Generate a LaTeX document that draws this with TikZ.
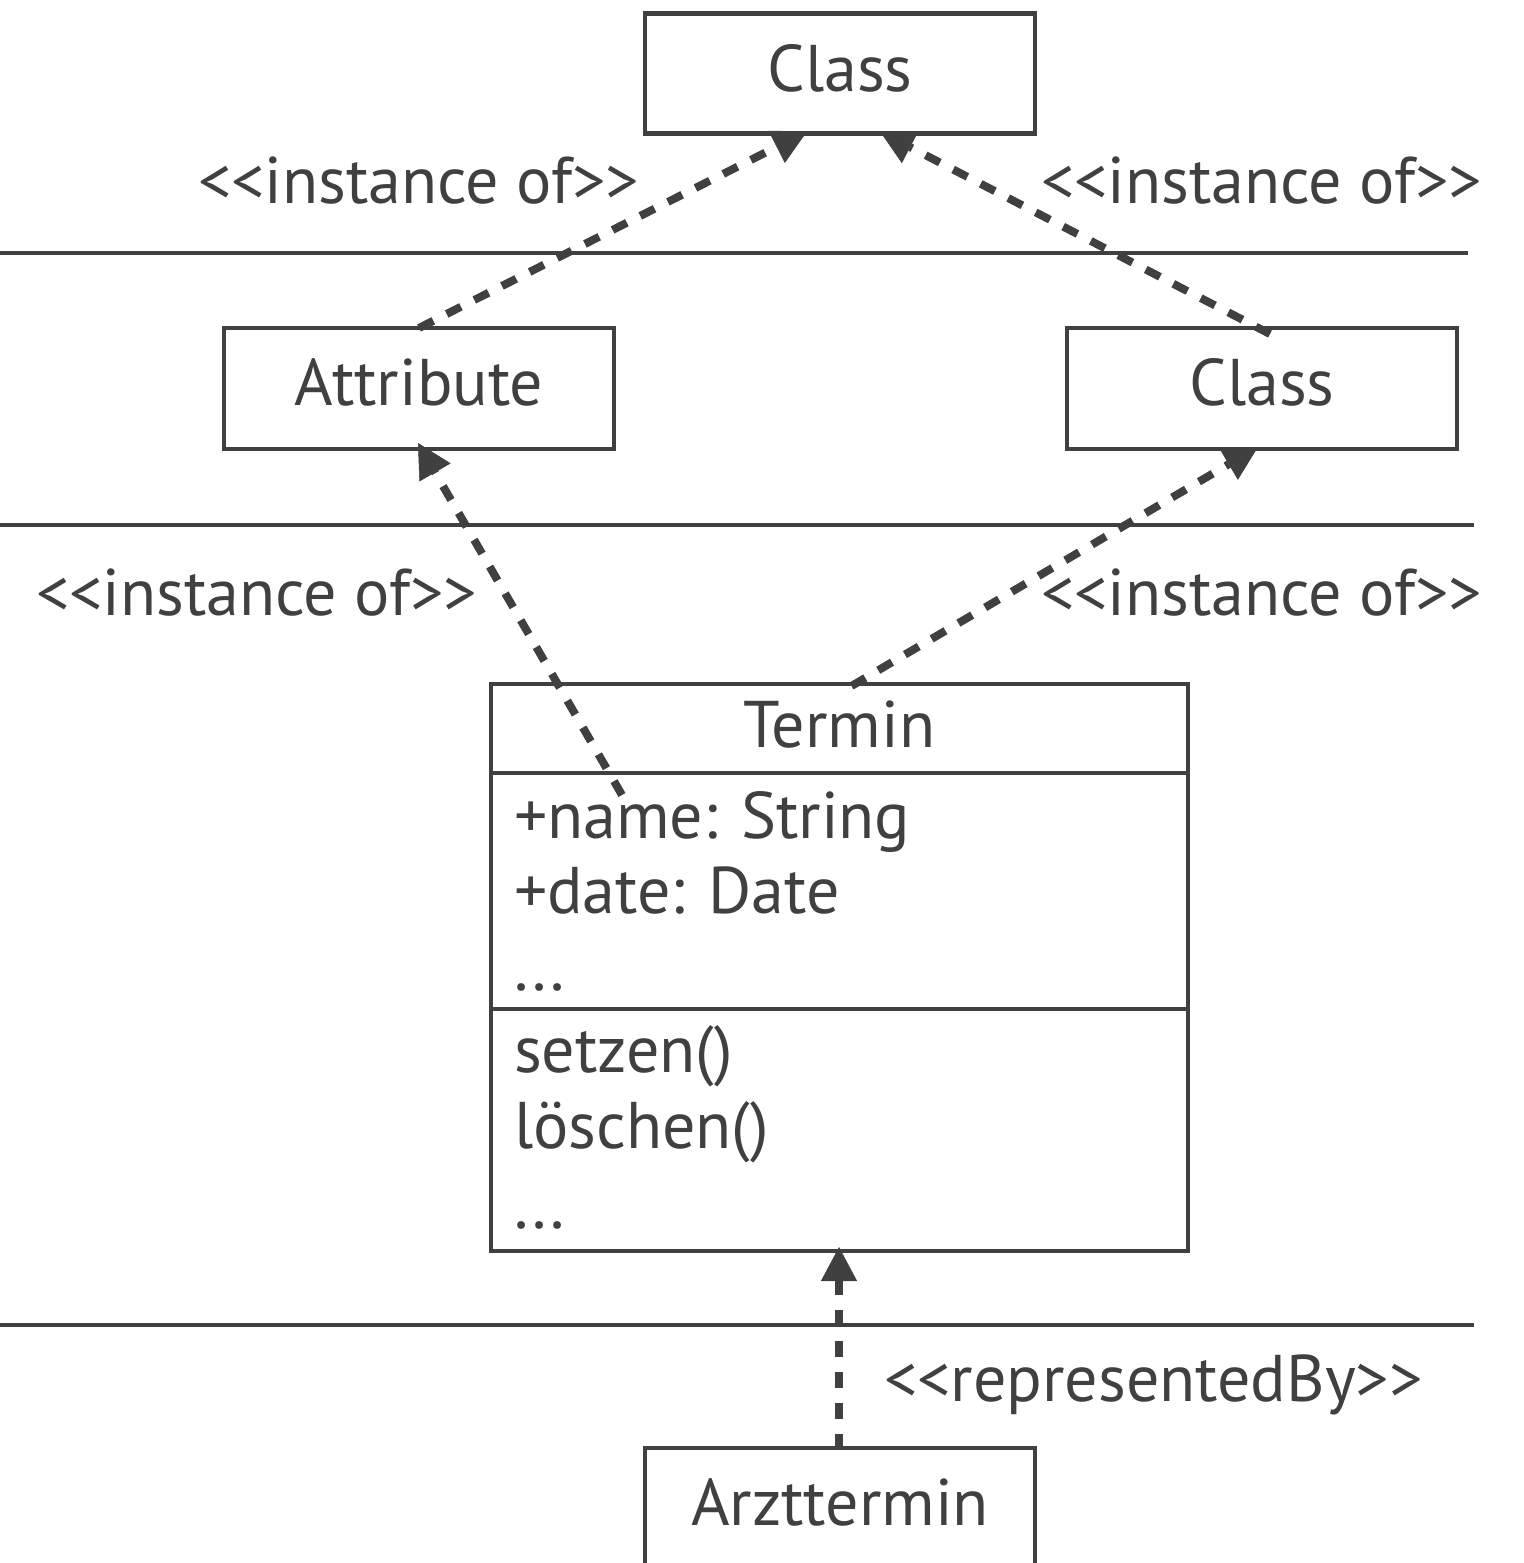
\documentclass[tikz,border=0pt]{standalone}
\usepackage{fontspec}
\setmainfont{PT Sans}
\usetikzlibrary{arrows.meta}
\definecolor{ink}{HTML}{404040}
\begin{document}
\begin{tikzpicture}[x=1pt,y=-1pt,
  every node/.style={inner sep=0pt, outer sep=0pt},
  box/.style={draw=ink, line width=4.5pt, fill=white, minimum width=390pt, minimum height=120pt},
  lbl/.style={text=ink, font=\fontsize{66}{75}\selectfont, anchor=base},
  lblw/.style={lbl, anchor=base west},
  sep/.style={draw=ink, line width=4.5pt},
  inst/.style={draw=ink, line width=8pt, dash pattern=on 16pt off 15pt,
    -{Triangle[length=34pt,width=36pt,line width=0.5pt]}}
]
\useasboundingbox (0,0) rectangle (1523,1563);

% layer separators
\coordinate (s1a) at (0,253);  \coordinate (s1b) at (1468,253);
\coordinate (s2a) at (0,525);  \coordinate (s2b) at (1474,525);
\coordinate (s3a) at (0,1325); \coordinate (s3b) at (1474,1325);
\draw[sep] (s1a) -- (s1b);
\draw[sep] (s2a) -- (s2b);
\draw[sep] (s3a) -- (s3b);

% model class Termin
\node[draw=ink, line width=4.5pt, fill=white, minimum width=697pt, minimum height=567pt]
  (termin) at (839.5,967.5) {};
\draw[sep] ([yshift=-89pt]termin.north west) -- ([yshift=-89pt]termin.north east);
\draw[sep] ([yshift=-325pt]termin.north west) -- ([yshift=-325pt]termin.north east);
\node[lbl] (tname) at (839.5,747) {Termin};
\node[lblw] (a1) at (514,838) {+name: String};
\node[lblw] (a2) at (514,913) {+date: Date};
\node[lblw] (a3) at (514,990) {...};
\node[lblw] (o1) at (514,1072) {setzen()};
\node[lblw] (o2) at (514,1148) {löschen()};
\node[lblw] (o3) at (514,1228) {...};

% boxes on the meta layers
\node[box] (mclass) at (840,73.5) {};
\node[box, minimum height=121pt] (attr) at (419,388.5) {};
\node[box, minimum height=121pt] (cls) at (1262,388.5) {};
\node[box, minimum height=160pt] (arzt) at (840,1528) {};

% box texts
\node[lbl] (tclass) at (840,92) {Class};
\node[lbl] (tattr) at (419,405) {Attribute};
\node[lbl] (tcls) at (1262,405) {Class};
\node[lbl] (tarzt) at (840,1525) {Arzttermin};

% instance-of and representedBy connectors
\coordinate (nameend) at (622,795);
\draw[inst] (attr.north) -- ([xshift=-33pt,yshift=2pt]mclass.south);
\draw[inst] ([xshift=8pt,yshift=-6pt]cls.north) -- ([xshift=40pt,yshift=2pt]mclass.south);
\draw[inst] (nameend) -- ([xshift=-1pt,yshift=6pt]attr.south);
\draw[inst] ([xshift=12pt,yshift=-2pt]termin.north) -- ([xshift=-4pt,yshift=2pt]cls.south);
\draw[inst] ([xshift=-1pt,yshift=-2pt]arzt.north) -- ([xshift=-0.5pt,yshift=4pt]termin.south);

% connector labels
\node[lblw] (l1) at (198,203) {<{}<instance of>{}>};
\node[lblw] (l2) at (1041,203) {<{}<instance of>{}>};
\node[lblw] (l3) at (36,615) {<{}<instance of>{}>};
\node[lblw] (l4) at (1041,615) {<{}<instance of>{}>};
\node[lblw] (l5) at (884,1401) {<{}<representedBy>{}>};
\end{tikzpicture}
\end{document}
